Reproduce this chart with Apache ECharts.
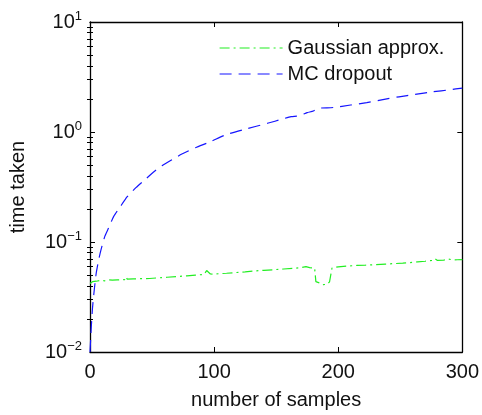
<!DOCTYPE html>
<html>
<head>
<meta charset="utf-8">
<script src="https://cdn.jsdelivr.net/npm/echarts@6/dist/echarts.min.js"></script>
<style>
  html, body { margin: 0; padding: 0; background: #fff; }
  #chart { width: 482px; height: 415px; }
</style>
</head>
<body>
<div id="chart"></div>
<script>
// series
const mcSamples = [0, 1, 2, 3, 4, 5, 7, 9, 12, 15, 19, 24, 30, 37, 45, 52, 58, 66, 74, 85, 97, 110, 125, 143, 155, 162, 168, 175, 180, 183, 196, 210, 223, 236, 249, 262, 276, 290, 300]
const mcTime = [0.010, 0.0166, 0.025, 0.033, 0.042, 0.052, 0.069, 0.086, 0.113, 0.134, 0.170, 0.206, 0.258, 0.312, 0.375, 0.44, 0.494, 0.56, 0.63, 0.72, 0.815, 0.95, 1.06, 1.20, 1.31, 1.38, 1.40, 1.50, 1.55, 1.64, 1.67, 1.76, 1.85, 1.97, 2.09, 2.20, 2.32, 2.42, 2.51]

const gaSamples = [0, 2, 5, 8, 12, 15, 16, 18, 22, 28, 29, 30, 35, 42, 48, 55, 62, 70, 78, 85, 92, 94, 95, 97, 100, 104, 110, 118, 125, 132, 140, 148, 156, 163, 170, 174, 175, 177, 181, 182, 183, 186, 188, 191, 193, 194, 195, 200, 208, 215, 222, 230, 238, 245, 252, 258, 264, 270, 276, 278, 280, 285, 289, 292, 296, 300]
const gaTime = [0.0419, 0.0436, 0.0440, 0.0446, 0.0444, 0.0452, 0.0446, 0.0450, 0.0452, 0.0455, 0.0482, 0.0460, 0.0462, 0.0465, 0.0466, 0.0472, 0.0478, 0.0485, 0.0492, 0.0500, 0.0508, 0.0550, 0.0545, 0.0512, 0.0510, 0.0515, 0.0520, 0.0528, 0.0535, 0.0545, 0.0552, 0.0560, 0.0568, 0.0575, 0.0585, 0.0598, 0.0596, 0.0585, 0.0580, 0.0436, 0.0434, 0.0420, 0.0410, 0.0412, 0.0434, 0.0432, 0.0580, 0.0595, 0.0605, 0.0612, 0.0615, 0.0622, 0.0630, 0.0636, 0.0642, 0.0650, 0.0660, 0.0668, 0.0680, 0.0705, 0.0680, 0.0685, 0.0700, 0.0688, 0.0690, 0.0692]

const seriesNames = ['Gaussian approx.', 'MC dropout']
// log-axis minor tick positions (2..9 in each decade)
const minorTicks = [0.02, 0.03, 0.04, 0.05, 0.06, 0.07, 0.08, 0.09,
  0.2, 0.3, 0.4, 0.5, 0.6, 0.7, 0.8, 0.9,
  2, 3, 4, 5, 6, 7, 8, 9]

const FONT = '"Liberation Sans", Arial, Helvetica, sans-serif'

const chart = echarts.init(document.getElementById('chart'))

function pairs(xs, ys) {
  return xs.map((x, i) => [x, ys[i]])
}

// 10^n as rich text
function powLabel(v) {
  const e = Math.round(Math.log10(v))
  return '{b|10}{e|' + String(e).replace('-', '\u2212') + '}'
}

const tickStyle = { show: true, inside: true, length: 5, lineStyle: { color: '#000', width: 1 } }
const lineAxis = { show: true, onZero: false, lineStyle: { color: '#000', width: 1.3 } }

function minorAxis(pos) {
  return {
    type: 'log',
    logBase: 10,
    position: pos,
    min: 0.01,
    max: 10,
    axisLine: { show: false },
    axisTick: { show: true, inside: true, length: 3, customValues: minorTicks, lineStyle: { color: '#000', width: 1 } },
    axisLabel: { show: false },
    splitLine: { show: false },
  }
}

chart.setOption({
  animation: false,
  textStyle: { fontFamily: FONT },
  grid: { left: 87, right: 19, top: 22, bottom: 57 },
  legend: {
    data: seriesNames,
    orient: 'vertical',
    left: 214,
    top: 33,
    itemWidth: 63,
    itemHeight: 8,
    itemGap: 6,
    itemStyle: { opacity: 0 },
    lineStyle: { width: 1.2 },
    textStyle: { fontSize: 20, color: '#111', fontFamily: FONT },
  },
  xAxis: [
    {
      type: 'value',
      min: 0,
      max: 300,
      interval: 100,
      name: 'number of samples',
      nameLocation: 'middle',
      nameGap: 38,
      nameTextStyle: { fontSize: 20, color: '#111' },
      axisLine: lineAxis,
      axisTick: tickStyle,
      axisLabel: { fontSize: 20, color: '#111', margin: 10 },
      splitLine: { show: false },
    },
    {
      type: 'value',
      position: 'top',
      min: 0,
      max: 300,
      interval: 100,
      axisLine: lineAxis,
      axisTick: tickStyle,
      axisLabel: { show: false },
      splitLine: { show: false },
    },
  ],
  yAxis: [
    {
      type: 'log',
      logBase: 10,
      min: 0.01,
      max: 10,
      name: 'time taken',
      nameLocation: 'middle',
      nameGap: 62,
      nameTextStyle: { fontSize: 20, color: '#111' },
      axisLine: lineAxis,
      axisTick: tickStyle,
      axisLabel: {
        margin: 8,
        formatter: powLabel,
        rich: {
          b: { fontSize: 20, color: '#111', fontFamily: FONT },
          e: { fontSize: 13, color: '#111', fontFamily: FONT, verticalAlign: 'top', padding: [0, 0, 12, 0] },
        },
      },
      splitLine: { show: false },
    },
    {
      type: 'log',
      logBase: 10,
      position: 'right',
      min: 0.01,
      max: 10,
      axisLine: lineAxis,
      axisTick: tickStyle,
      axisLabel: { show: false },
      splitLine: { show: false },
    },
    minorAxis('left'),
    minorAxis('right'),
  ],
  series: [
    {
      name: seriesNames[0],
      type: 'line',
      data: pairs(gaSamples, gaTime),
      showSymbol: false,
      symbol: 'none',
      lineStyle: { color: '#22ee22', width: 1.2, type: [10, 4, 2, 4] },
      itemStyle: { color: '#22ee22' },
    },
    {
      name: seriesNames[1],
      type: 'line',
      data: pairs(mcSamples, mcTime),
      showSymbol: false,
      symbol: 'none',
      smooth: 0.2,
      lineStyle: { color: '#1515ff', width: 1.2, type: [12, 7] },
      itemStyle: { color: '#1515ff' },
    },
  ],
})
</script>
</body>
</html>
